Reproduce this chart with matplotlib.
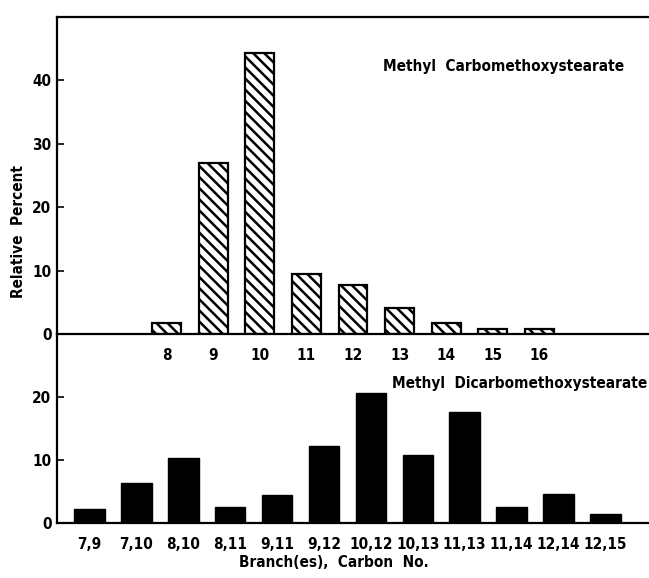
import matplotlib
matplotlib.use("Agg")
import matplotlib.pyplot as plt
import numpy as np

# ---- data ----
mono_labels = ["8", "9", "10", "11", "12", "13", "14", "15", "16"]
mono_values = [1.7, 26.9, 44.3, 9.4, 7.7, 4.1, 1.7, 0.8, 0.8]

di_labels = ["7,9", "7,10", "8,10", "8,11", "9,11", "9,12", "10,12",
             "10,13", "11,13", "11,14", "12,14", "12,15"]
di_values = [2.3, 6.3, 10.3, 2.6, 4.5, 12.2, 20.7, 10.9, 17.6, 2.5, 4.6, 1.5]

upper_yticks = [0, 10, 20, 30, 40]
lower_yticks = [0, 10, 20]

FONT = dict(family="DejaVu Sans", stretch="condensed", weight="bold")
TICK_FS = 11
TEXT_FS = 11

plt.rcParams["hatch.linewidth"] = 1.8

fig = plt.figure(figsize=(6.49, 5.78), dpi=100)
ax1 = fig.add_axes([0.0878, 0.4221, 0.9122, 0.5485])
ax2 = fig.add_axes([0.0878, 0.0952, 0.9122, 0.3269])

# upper panel
x1 = np.arange(len(mono_values))
ax1.bar(x1, mono_values, width=0.62, facecolor="white", edgecolor="black",
        linewidth=1.6, hatch="\\\\\\")
ax1.set_xlim(-2.35, 10.35)
ax1.set_ylim(0, 50)
ax1.set_xticks(x1)
ax1.set_xticklabels(mono_labels, fontsize=TICK_FS, **FONT)
ax1.set_yticks(upper_yticks)
ax1.set_yticklabels([str(v) for v in upper_yticks], fontsize=TICK_FS, **FONT)
ax1.tick_params(axis="x", length=0, pad=10)
ax1.tick_params(axis="y", direction="in", length=5, width=1.2, pad=4)
ax1.spines["right"].set_visible(False)
for s in ["left", "top", "bottom"]:
    ax1.spines[s].set_linewidth(1.6)
ax1.text(0.551, 0.845, "Methyl  Carbomethoxystearate", transform=ax1.transAxes,
         fontsize=TEXT_FS, ha="left", va="center", **FONT)
ax1.patch.set_alpha(0)

# lower panel
x2 = np.arange(len(di_values))
ax2.bar(x2, di_values, width=0.65, color="black", edgecolor="black", linewidth=1)
ax2.set_xlim(-0.695, 11.93)
ax2.set_ylim(0, 30.1)
ax2.set_xticks(x2)
ax2.set_xticklabels(di_labels, fontsize=TICK_FS, **FONT)
ax2.set_yticks(lower_yticks)
ax2.set_yticklabels([str(v) for v in lower_yticks], fontsize=TICK_FS, **FONT)
ax2.tick_params(axis="x", length=0, pad=10)
ax2.tick_params(axis="y", direction="in", length=5, width=1.2, pad=4)
for s in ["right", "top"]:
    ax2.spines[s].set_visible(False)
for s in ["left", "bottom"]:
    ax2.spines[s].set_linewidth(1.6)
ax2.text(0.566, 0.74, "Methyl  Dicarbomethoxystearate", transform=ax2.transAxes,
         fontsize=TEXT_FS, ha="left", va="center", **FONT)
ax2.patch.set_alpha(0)

fig.text(0.028, 0.60, "Relative  Percent", rotation=90, ha="center", va="center",
         fontsize=TEXT_FS, **FONT)
fig.text(0.515, 0.026, "Branch(es),  Carbon  No.", ha="center", va="center",
         fontsize=TEXT_FS, **FONT)

fig.savefig("out.png", dpi=100)
